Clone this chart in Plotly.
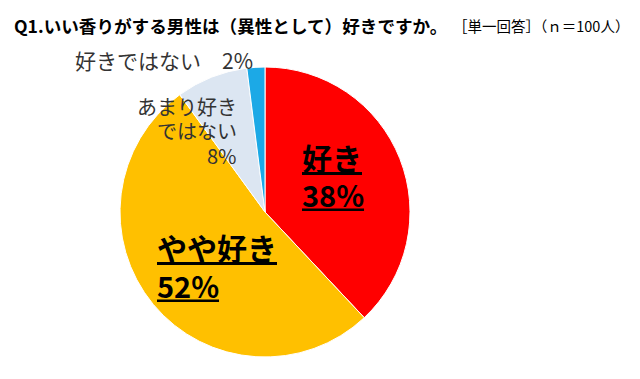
import plotly.graph_objects as go

# Data
categories = ["好き", "やや好き", "あまり好きではない", "好きではない"]
values = [38, 52, 8, 2]
colors = ["#FF0000", "#FFC000", "#DCE6F2", "#1CA9E6"]

W, H = 640, 379
FONT = "Noto Sans CJK JP"

fig = go.Figure(
    go.Pie(
        labels=categories,
        values=values,
        sort=False,
        direction="clockwise",
        rotation=0,
        marker=dict(colors=colors, line=dict(color="white", width=1)),
        textinfo="none",
        hoverinfo="label+percent",
        showlegend=False,
        domain=dict(x=[120 / W, 410 / W], y=[1 - 357 / H, 1 - 67 / H]),
    )
)


def px(x, y):
    return x / W, 1 - y / H


annotations = []


def add(text, x, y, size, xanchor="left", color="#000000", tight=False):
    ax, ay = px(x, y)
    ann = dict(
        text=text, x=ax, y=ay, xref="paper", yref="paper",
        xanchor=xanchor, yanchor="middle", showarrow=False,
        font=dict(family=FONT, size=size, color=color),
    )
    if tight:
        ann["height"] = round(size * 1.2)
        ann["valign"] = "middle"
    annotations.append(ann)


# Title
add("<b>Q1.いい香りがする男性は（異性として）好きですか。</b>", 12, 25, 17.6)
add("［単一回答］（ｎ＝100人）", 451, 25, 14.5)

# Slice labels
add(f"{categories[3]}　{values[3]}%", 73, 60, 21, color="#333333")
add("あまり好き", 239, 106, 20, xanchor="right", color="#333333", tight=True)
add("ではない", 239, 130, 20, xanchor="right", color="#333333", tight=True)
add(f"{values[2]}%", 239, 155, 20, xanchor="right", color="#333333", tight=True)
add(f"<b><u>{categories[1]}</u></b>", 155, 247, 30, tight=True)
add(f"<b><u>{values[1]}%</u></b>", 155, 284, 29, tight=True)
add(f"<b><u>{categories[0]}</u></b>", 300, 157, 30, tight=True)
add(f"<b><u>{values[0]}%</u></b>", 300, 193, 29, tight=True)

fig.update_layout(
    width=W, height=H,
    margin=dict(l=0, r=0, t=0, b=0),
    paper_bgcolor="white",
    plot_bgcolor="white",
    annotations=annotations,
    font=dict(family=FONT),
)

fig.write_html(
    "out.html",
    config={"displayModeBar": False},
    post_script="document.body.style.margin='0';",
)
